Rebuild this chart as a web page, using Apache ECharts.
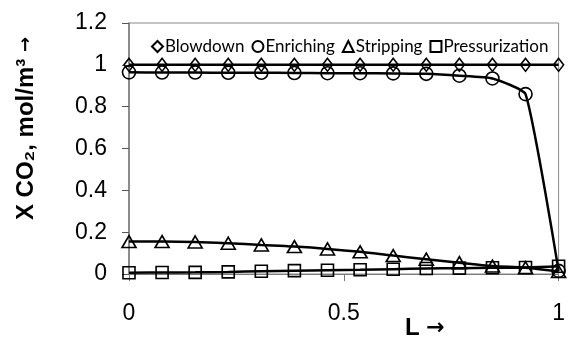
<!DOCTYPE html>
<html>
<head>
<meta charset="utf-8">
<script src="https://cdn.jsdelivr.net/npm/echarts@6/dist/echarts.min.js"></script>
<style>
  html, body {margin: 0; padding: 0; background: #fff;}
  #chart {width: 568px; height: 340px;}
</style>
</head>
<body>
<div id="chart"></div>
<script>
const xs = [0, 0.077, 0.154, 0.231, 0.308, 0.385, 0.462, 0.538, 0.615, 0.692, 0.769, 0.846, 0.923, 1];
const blowdown = [1, 1, 1, 1, 1, 1, 1, 1, 1, 1, 1, 1, 1, 1];
const enriching = [0.964, 0.963, 0.963, 0.962, 0.962, 0.961, 0.96, 0.96, 0.959, 0.957, 0.948, 0.935, 0.86, 0.015];
const stripping = [0.155, 0.155, 0.153, 0.147, 0.139, 0.131, 0.12, 0.106, 0.088, 0.071, 0.054, 0.038, 0.03, 0.012];
const pressurization = [0.006, 0.007, 0.008, 0.01, 0.013, 0.016, 0.018, 0.02, 0.023, 0.026, 0.028, 0.03, 0.031, 0.037];
const names = ['Blowdown', 'Enriching', 'Stripping', 'Pressurization'];
const yTicks = {min: 0, max: 1.2, step: 0.2};
const xTicks = {min: 0, max: 1, step: 0.5};

const pairs = arr => arr.map((v, i) => [xs[i], v]);
const symbols = ['diamond', 'circle', 'triangle', 'rect'];
const sizes = [[10, 13], 13, [14, 12], 12];
const smooths = [false, 0.15, 0.35, 0.35];

const chart = echarts.init(document.getElementById('chart'));
chart.setOption({
  animation: false,
  grid: {left: 129, right: 1, top: 23, bottom: 66, show: true, borderColor: '#8a8a8a', borderWidth: 1},
  legend: {
    top: 33, left: 146,
    itemWidth: 11, itemHeight: 11, itemGap: 7,
    textStyle: {fontFamily: 'Lato', fontSize: 17, color: '#000', padding: [0, 0, 0, -3]},
    data: names.map((n, i) => ({name: n, icon: symbols[i]})),
  },
  xAxis: {
    type: 'value', min: xTicks.min, max: xTicks.max, interval: xTicks.step,
    axisLine: {onZero: false, lineStyle: {color: '#7a7a7a', width: 1}},
    axisTick: {show: true, length: 7, lineStyle: {color: '#7a7a7a'}},
    splitLine: {show: false},
    axisLabel: {fontFamily: 'Liberation Sans', fontSize: 23, color: '#000', margin: 28,
      showMaxLabel: true, alignMaxLabel: 'center', alignMinLabel: 'center'},
  },
  yAxis: {
    type: 'value', min: yTicks.min, max: yTicks.max, interval: yTicks.step,
    axisLine: {show: true, lineStyle: {color: '#7a7a7a', width: 1.5}},
    axisTick: {show: true, length: 7, lineStyle: {color: '#555'}},
    splitLine: {show: false},
    axisLabel: {fontFamily: 'Liberation Sans', fontSize: 23, color: '#000', margin: 22},
  },
  graphic: [
    {type: 'text', left: 14, top: 37, rotation: Math.PI / 2,
      style: {
        text: '{t|X CO\u2082, mol/m\u00b3 }{a|\u2192}',
        rich: {
          t: {font: 'bold 24px "Liberation Sans"', fill: '#000'},
          a: {font: 'bold 18px "DejaVu Sans"', fill: '#000'},
        },
      }},
    {type: 'text', left: 405, top: 316,
      style: {
        text: '{t|L }{a|\u2192}',
        rich: {
          t: {font: 'bold 24px "Liberation Sans"', fill: '#000'},
          a: {font: 'bold 22px "DejaVu Sans"', fill: '#000'},
        },
      }},
  ],
  series: [blowdown, enriching, stripping, pressurization].map((arr, i) => ({
    name: names[i],
    type: 'line',
    data: pairs(arr),
    smooth: smooths[i],
    symbol: symbols[i],
    symbolSize: sizes[i],
    lineStyle: {color: '#000', width: 2.5},
    itemStyle: {color: 'rgba(255,255,255,0)', borderColor: '#000', borderWidth: 1.6},
    emphasis: {disabled: true},
  })),
});
</script>
</body>
</html>
